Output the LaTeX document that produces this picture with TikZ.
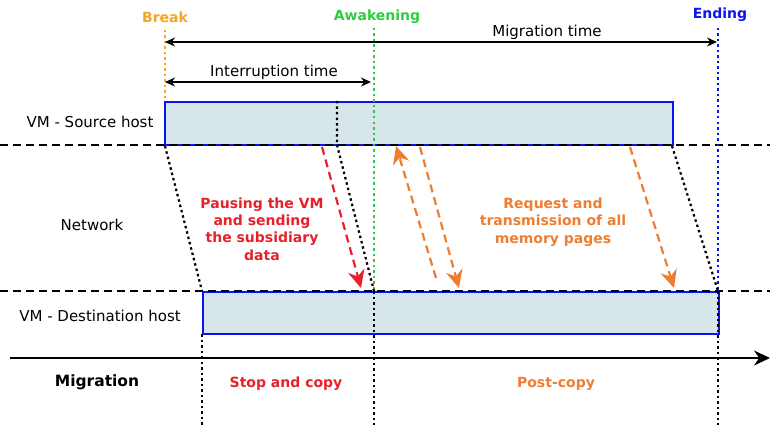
\documentclass[tikz,border=0pt]{standalone}
\usepackage{fontspec}
\setmainfont{DejaVu Sans}
\usetikzlibrary{arrows.meta}
\definecolor{boxfill}{HTML}{D7E6EA}
\definecolor{brk}{HTML}{F5A623}
\definecolor{awk}{HTML}{2ECC40}
\definecolor{endc}{HTML}{0A14F0}
\definecolor{redc}{HTML}{E8202A}
\definecolor{orc}{HTML}{ED7D31}
\tikzset{
  lbl/.style={font=\fontsize{15}{17}\selectfont, inner sep=0pt},
  bld/.style={font=\fontsize{14}{17.3}\selectfont\bfseries, inner sep=0pt, align=center},
  hostbox/.style={draw=endc, line width=1.6pt, fill=boxfill, inner sep=0pt, anchor=north west},
  netline/.style={black, line width=1.6pt, dash pattern=on 8pt off 5pt},
  dotline/.style={line width=2.2pt, dash pattern=on 2.5pt off 3pt},
  span/.style={line width=1.3pt, {Stealth[length=10pt,width=9pt]}-{Stealth[length=10pt,width=9pt]}},
  msg/.style={line width=2.2pt, dash pattern=on 8pt off 5pt, -{Stealth[length=18pt,width=17pt,inset=6pt,line width=0pt]}}
}
\begin{document}
\begin{tikzpicture}[x=1pt,y=-1pt]
\useasboundingbox (0,0) rectangle (770,425);

% host boxes
\node[hostbox, minimum width=508pt, minimum height=43pt] (src) at (164,101) {};
\node[hostbox, minimum width=516pt, minimum height=42pt] (dst) at (202,291) {};

% network boundaries
\coordinate (nlA) at (0,145);  \coordinate (nlB) at (770,145);
\coordinate (nlC) at (0,291);  \coordinate (nlD) at (770,291);
\draw[netline] (nlA) -- (nlB);
\draw[netline] (nlC) -- (nlD);

% row labels
\node[lbl] (lsrc) at (90,122) {VM - Source host};
\node[lbl] (lnet) at (92,225) {Network};
\node[lbl] (ldst) at (100,316) {VM - Destination host};

% events
\node[bld, text=brk] (break) at (165,17) {Break};
\node[bld, text=awk] (awake) at (377,17) {Awakening};
\node[bld, text=endc] (ending) at (720,15) {Ending};

\coordinate (bkT) at (165,30);  \coordinate (bkB) at (165,100);
\coordinate (awT) at (374,28);  \coordinate (awM) at (374,291); \coordinate (awB) at (374,425);
\coordinate (enT) at (718,28);  \coordinate (enM) at (718,291); \coordinate (enB) at (718,425);
\draw[dotline, brk] (bkT) -- (bkB);
\draw[dotline, awk] (awT) -- (awM);
\draw[dotline, black] (awM) -- (awB);
\draw[dotline, endc] (enT) -- (enM);
\draw[dotline, black] (enM) -- (enB);

% time spans
\coordinate (mtL) at (165,42); \coordinate (mtR) at (717,42);
\draw[span] (mtL) -- (mtR);
\node[lbl] (mtime) at (547,32) {Migration time};
\coordinate (itL) at (165,82); \coordinate (itR) at (371,82);
\draw[span] (itL) -- (itR);
\node[lbl] (itime) at (274,72) {Interruption time};

% slanted boundaries through the network
\coordinate (s1T) at (165,146); \coordinate (s1B) at (202,291);
\coordinate (s2A) at (337,101); \coordinate (s2T) at (337,145); \coordinate (s2B) at (374,291);
\coordinate (s3T) at (672,146); \coordinate (s3B) at (718,291);
\coordinate (d1T) at (202,334); \coordinate (d1B) at (202,425);
\draw[dotline] (s1T) -- (s1B);
\draw[dotline] (s2A) -- (s2T) -- (s2B);
\draw[dotline] (s3T) -- (s3B);
\draw[dotline] (d1T) -- (d1B);

% messages
\coordinate (r1a) at (322,147); \coordinate (r1b) at (361,288);
\draw[msg, redc] (r1a) -- (r1b);
\coordinate (o1a) at (436,278); \coordinate (o1b) at (396,146);
\coordinate (o2a) at (420,147); \coordinate (o2b) at (459,288);
\coordinate (o3a) at (630,147); \coordinate (o3b) at (674,288);
\draw[msg, orc] (o1a) -- (o1b);
\draw[msg, orc] (o2a) -- (o2b);
\draw[msg, orc] (o3a) -- (o3b);

\node[bld, text=redc] (pause) at (262,229) {Pausing the VM\\and sending\\the subsidiary\\data};
\node[bld, text=orc] (req) at (553,222) {Request and\\transmission of all\\memory pages};

% migration timeline
\coordinate (tlL) at (10,358); \coordinate (tlR) at (770,358);
\draw[line width=2pt, -{Stealth[length=16pt,width=15pt]}] (tlL) -- (tlR);
\node[bld, font=\fontsize{15.5}{18}\selectfont\bfseries] (mig) at (97,382) {Migration};
\node[bld, text=redc] (stop) at (286,384) {Stop and copy};
\node[bld, text=orc] (post) at (556,384) {Post-copy};
\end{tikzpicture}
\end{document}
